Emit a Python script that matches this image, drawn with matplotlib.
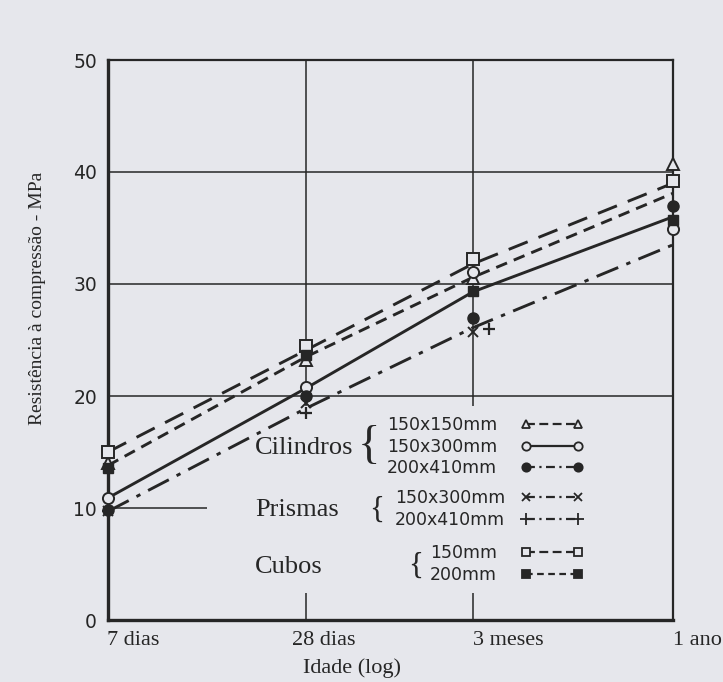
import matplotlib
matplotlib.use("Agg")
import matplotlib.pyplot as plt
from matplotlib.lines import Line2D
from matplotlib.patches import Rectangle
from matplotlib.transforms import ScaledTranslation

# ---- data -------------------------------------------------------------
ages = [7, 28, 90, 365]
age_labels = ["7 dias", "28 dias", "3 meses", "1 ano"]

# measured strengths (MPa) per specimen type
cil_150x150 = [14.0, 23.2, 30.5, 40.7]
cil_150x300 = [10.9, 20.8, 31.1, 34.9]
cil_200x410 = [9.8, 20.0, 27.0, 37.0]
pri_ages = [7, 28, 90]
pri_150x300 = [9.7, 19.4, 25.7]
pri_200x410 = [9.7, 18.5, 26.0]
cub_150 = [15.0, 24.5, 32.2, 39.2]
cub_200 = [13.6, 23.7, 29.4, 35.7]

# mean curves
curve_cubos = [15.0, 24.1, 31.8, 39.0]
curve_cil_cubos = [13.8, 23.5, 30.6, 38.1]
curve_cil = [10.9, 20.7, 29.3, 36.0]
curve_prismas = [9.7, 18.9, 26.1, 33.5]

yticks = [0, 10, 20, 30, 40, 50]

# ---- style ------------------------------------------------------------
BG = "#e6e7ec"
INK = "#262626"
SERIF = ["Liberation Serif", "DejaVu Serif"]
SANS = ["DejaVu Sans"]

W, H = 723, 682
fig = plt.figure(figsize=(W / 100, H / 100), dpi=100, facecolor=BG)
ax = fig.add_axes([108 / W, 62 / H, 565 / W, 560 / H], facecolor=BG)

ax.set_xscale("log")
ax.set_xlim(7, 365)
ax.set_ylim(0, 50)

# grid and ticks
ax.set_axisbelow(True)
ax.set_yticks(yticks)
ax.set_yticklabels([str(v) for v in yticks], family=SANS, fontsize=13.5, color=INK)
ax.set_xticks(ages)
ax.set_xticklabels(age_labels, family=SERIF, fontsize=16, color=INK)
ax.minorticks_off()
ax.tick_params(axis="both", length=0)
ax.tick_params(axis="y", pad=8)
ax.tick_params(axis="x", pad=8)
ax.grid(True, color=INK, linewidth=1.1)

# age labels sit a little to the right of their gridlines
label_dx = [25, 18, 35, 24]
for lab, dx in zip(ax.get_xticklabels(), label_dx):
    lab.set_transform(lab.get_transform() + ScaledTranslation(dx / 100, 0, fig.dpi_scale_trans))

for side, lw in (("left", 2.4), ("bottom", 2.4), ("top", 1.6), ("right", 1.6)):
    ax.spines[side].set_linewidth(lw)
    ax.spines[side].set_color(INK)

# clear area behind the key
ax.add_patch(Rectangle((0.175, 0.048), 0.83, 0.334, transform=ax.transAxes,
                       facecolor=BG, edgecolor="none", zorder=1))

# ---- curves -----------------------------------------------------------
lw = 2.1
ax.plot(ages, curve_cubos, color=INK, lw=lw, dashes=(7, 4), zorder=3)
ax.plot(ages, curve_cil_cubos, color=INK, lw=lw, dashes=(4, 2.5), zorder=3)
ax.plot(ages, curve_cil, color=INK, lw=lw, zorder=3)
ax.plot(ages, curve_prismas, color=INK, lw=lw, dashes=(8, 3, 1.5, 3), zorder=3)

# ---- points -----------------------------------------------------------
mk = dict(color=INK, linestyle="none", zorder=4, clip_on=False)
ax.plot(ages, cil_150x150, marker="^", ms=8, mfc=BG, mew=1.4, **mk)
ax.plot(ages, cil_150x300, marker="o", ms=8, mfc=BG, mew=1.4, **mk)
ax.plot(ages, cil_200x410, marker="o", ms=8, mfc=INK, **mk)
ax.plot(pri_ages, pri_150x300, marker="x", ms=7, mew=1.4, **mk)
# the 3-month "+" is set slightly aside so it does not hide the "x"
ax.plot(pri_ages[:2], pri_200x410[:2], marker="+", ms=9, mew=1.6, **mk)
nudge = ax.transData + ScaledTranslation(0.16, 0, fig.dpi_scale_trans)
ax.plot(pri_ages[2:], pri_200x410[2:], marker="+", ms=9, mew=1.6,
        transform=nudge, **mk)
ax.plot(ages, cub_150, marker="s", ms=8, mfc=BG, mew=1.4, **mk)
ax.plot(ages, cub_200, marker="s", ms=7, mfc=INK, **mk)

# ---- axis titles --------------------------------------------------------
fig.text(38 / W, 1 - 298 / H, "Resistência à compressão - MPa", rotation=90,
         ha="center", va="center", family=SERIF, fontsize=14, color=INK)
fig.text(352 / W, 1 - 668 / H, "Idade (log)", ha="center", va="center",
         family=SERIF, fontsize=16, color=INK)

# ---- key ----------------------------------------------------------------
def key_handle(marker, dashes, filled, ms=6):
    kw = dict(color=INK, lw=1.6, marker=marker, ms=ms, mew=1.3,
              mfc=INK if filled else BG)
    if dashes is None:
        return Line2D([], [], **kw)
    return Line2D([], [], dashes=dashes, **kw)

DASH = (4, 2)
DOTDASH = (4, 2, 1, 2)
groups = [
    # name, name_y, brace_x, brace_top, brace_bottom, label_x, rows
    ("Cilindros", 448, 358, 420, 474, 387,
     [("150x150mm", 425, key_handle("^", DASH, False)),
      ("150x300mm", 447, key_handle("o", None, False)),
      ("200x410mm", 468, key_handle("o", DOTDASH, True))]),
    ("Prismas", 510, 369, 492, 528, 395,
     [("150x300mm", 498, key_handle("x", DOTDASH, False)),
      ("200x410mm", 520, key_handle("+", DOTDASH, False, ms=8))]),
    ("Cubos", 567, 408, 548, 584, 430,
     [("150mm", 553, key_handle("s", DASH, False)),
      ("200mm", 575, key_handle("s", (3, 2), True))]),
]

KEY_X = 521
for name, ny, bx, btop, bbot, tx, rows in groups:
    fig.text(255 / W, 1 - ny / H, name, ha="left", va="center",
             family=SERIF, fontsize=19, color=INK)
    fig.text(bx / W, 1 - (btop + bbot) / 2 / H, "{", ha="left", va="center",
             family=SERIF, fontsize=(bbot - btop) * 0.62, color=INK)
    for label, ry, handle in rows:
        fig.text(tx / W, 1 - ry / H, label, ha="left", va="center",
                 family=SANS, fontsize=12.5, color=INK)
        fig.legend([handle], [""], loc="center left",
                   bbox_to_anchor=(KEY_X / W, 1 - ry / H),
                   frameon=False, numpoints=2, handlelength=3.6,
                   handletextpad=0, borderpad=0, borderaxespad=0,
                   prop=dict(family=SANS, size=12.5))

fig.savefig("out.png", dpi=100, facecolor=BG)
